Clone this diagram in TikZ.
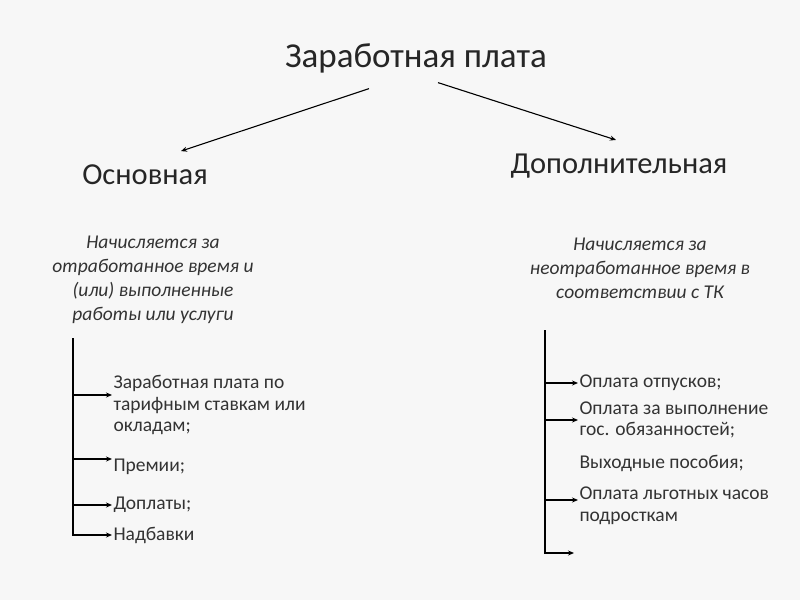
\documentclass[tikz,border=0pt]{standalone}
\usepackage{fontspec}
\setmainfont{Carlito}
\usetikzlibrary{arrows.meta,positioning,calc}

\begin{document}
\begin{tikzpicture}[x=1pt,y=-1pt,>={Stealth[length=6pt,width=5pt]},line width=1.1pt,
  title/.style={font=\fontsize{35}{40}\selectfont,text=black!85},
  head/.style={font=\fontsize{30.5}{34}\selectfont,text=black!85},
  note/.style={font=\fontsize{19.5}{24}\selectfont\itshape,align=center,text=black!80},
  item/.style={font=\fontsize{19.5}{21.5}\selectfont,align=left,anchor=west,inner sep=1pt,text=black!80}]
  \fill[black!3] (0,0) rectangle (800,600);
  \node[title] (zp) at (416,58) {Заработная плата};
  \node[head] (osn) at (145,175) {Основная};
  \node[head] (dop) at (619,166) {Дополнительная};
  \draw[->] ($(zp.south)+(-47,12)$) -- ($(osn.north)+(36,-10)$);
  \draw[->] ($(zp.south)+(22,6)$) -- ($(dop.north)+(-3,-10)$);
  % basic pay
  \node[note] (nl) at (153,280) {Начисляется за\\отработанное время и\\(или) выполненные\\работы или услуги};
  \node[item] (i1) at (112,405) {Заработная плата по\\тарифным ставкам или\\окладам;};
  \node[item] (i2) at (112,467) {Премии;};
  \node[item] (i3) at (112,505) {Доплаты;};
  \node[item] (i4) at (112,535) {Надбавки};
  \coordinate (lt) at (73,338);
  \draw[->] (lt) |- (i4.west);
  \draw[->] (lt |- i1.west) ++(0,-10) -- ([yshift=10pt]i1.west);
  \draw[->] (lt |- i2.west) ++(0,-8) -- ([yshift=8pt]i2.west);
  \draw[->] (lt |- i3.west) -- (i3.west);
  % additional pay
  \node[note] (nr) at (640,268) {Начисляется за\\неотработанное время в\\соответствии с ТК};
  \node[item] (r1) at (578,383) {Оплата отпусков;};
  \node[item] (r2) at (578,420) {Оплата за выполнение\\гос. обязанностей;};
  \node[item] (r3) at (578,463) {Выходные пособия;};
  \node[item] (r4) at (578,506) {Оплата льготных часов\\подросткам};
  \coordinate (rt) at (545,330);
  \coordinate (re) at (574,553);
  \draw[->] (rt) |- (re);
  \draw[->] (rt |- r1.west) -- (r1.west);
  \draw[->] (rt |- r2.west) -- (r2.west);
  \draw[->] (rt |- r4.west) ++(0,-6) -- ([yshift=6pt]r4.west);
\end{tikzpicture}
\end{document}
